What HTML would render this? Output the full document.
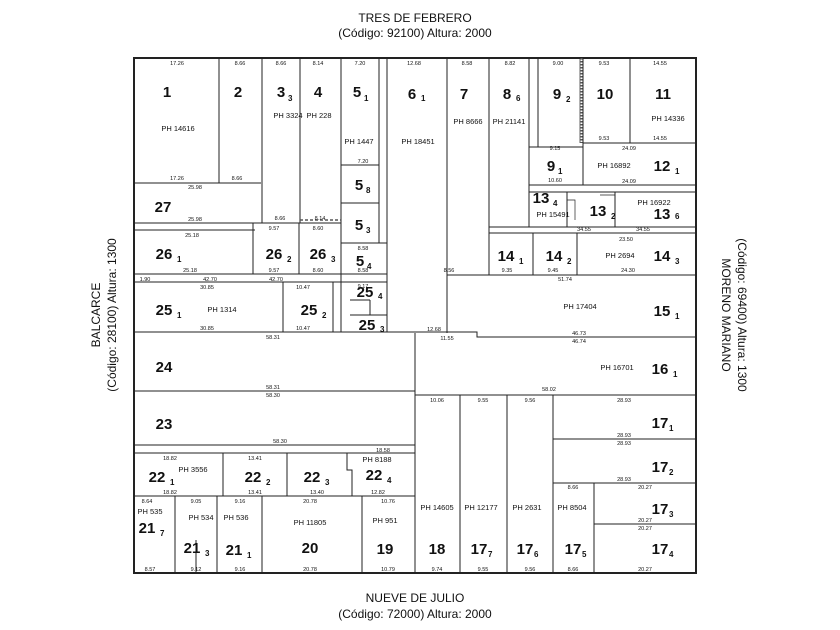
<!DOCTYPE html>
<html><head><meta charset="utf-8"><style>
html,body{margin:0;padding:0;background:#fff;}
svg{display:block;}
text{font-family:"Liberation Sans",sans-serif;fill:#111;}
.t{font-size:12px;}
.n{font-size:15px;font-weight:bold;}
.s{font-size:8px;font-weight:bold;}
.p{font-size:7.5px;}
.d{font-size:5.5px;}
</style></head><body>
<svg width="840" height="630" viewBox="0 0 840 630" xmlns="http://www.w3.org/2000/svg">
<rect width="840" height="630" fill="#fff"/>
<!-- titles -->
<text class="t" x="415" y="22" text-anchor="middle">TRES DE FEBRERO</text>
<text class="t" x="415" y="37" text-anchor="middle">(Código: 92100) Altura: 2000</text>
<text class="t" x="415" y="602" text-anchor="middle">NUEVE DE JULIO</text>
<text class="t" x="415" y="618" text-anchor="middle">(Código: 72000) Altura: 2000</text>
<text class="t" transform="translate(100,315) rotate(-90)" text-anchor="middle">BALCARCE</text>
<text class="t" transform="translate(116,315) rotate(-90)" text-anchor="middle">(Código: 28100) Altura: 1300</text>
<text class="t" transform="translate(722,315) rotate(90)" text-anchor="middle">MORENO MARIANO</text>
<text class="t" transform="translate(738,315) rotate(90)" text-anchor="middle">(Código: 69400) Altura: 1300</text>

<g stroke="#222" stroke-width="1" fill="none">
<rect x="134" y="58" width="562" height="515" stroke-width="2"/>
<path d="M219 58V183M134 183H261M262 58V223M300 58V223M341 58V332M379 58V243M387 58V332"/>
<path d="M341 165H379M341 203H379M341 243H387M341 274H387"/>
<path d="M134 223H341M134 230H255M253 223V274M299 223V274M134 274H341M134 282H341"/>
<path d="M283 282V332M333 282V332M341 282H387M350 300H370M370 300V315M350 315H387"/>
<path d="M134 332H477V337H696"/>
<path d="M447 58V333M489 58V275M529 58V227M538 58V147M529 147H583M583 58V185M630 58V143M583 143H696M583 185H696"/>
<path d="M529 185H696M529 192H696M567 192V227M615 192V227M489 227H696M489 233H696M533 233V275M577 233V275M447 275H696"/>
<path d="M567 200H575V220M600 195H615" stroke-width="0.7"/>
<path d="M415 333V573M134 391H415M134 445H415M134 453H415M223 453V496M287 453V496M347 453V470H352V496M134 496H415"/>
<path d="M175 496V573M217 496V573M262 496V573M362 496V573M196 540V573"/>
<path d="M415 395H696M460 395V573M507 395V573M553 395V573M553 439H696M553 483H696M594 483V573M594 524H696"/>
<path d="M580 58V143" stroke-width="0.7"/>
</g>
<path d="M581.5 58V143" stroke="#555" stroke-width="2" stroke-dasharray="1.5,1.5"/>
<path d="M300 220H341" stroke="#555" stroke-width="1.5" stroke-dasharray="3,2"/>

<g class="n" text-anchor="middle">
<text x="167" y="97">1</text><text x="238" y="97">2</text><text x="281" y="97">3</text><text x="318" y="97">4</text>
<text x="357" y="97">5</text><text x="412" y="99">6</text><text x="464" y="99">7</text><text x="507" y="99">8</text>
<text x="557" y="99">9</text><text x="605" y="99">10</text><text x="663" y="99">11</text>
<text x="662" y="171">12</text><text x="551" y="171">9</text><text x="163" y="212">27</text>
<text x="164" y="259">26</text><text x="274" y="259">26</text><text x="318" y="259">26</text>
<text x="359" y="190">5</text><text x="359" y="230">5</text><text x="360" y="266">5</text>
<text x="164" y="315">25</text><text x="309" y="315">25</text><text x="365" y="297">25</text><text x="367" y="330">25</text>
<text x="541" y="203">13</text><text x="598" y="216">13</text><text x="662" y="219">13</text>
<text x="506" y="261">14</text><text x="554" y="261">14</text><text x="662" y="261">14</text>
<text x="662" y="316">15</text><text x="660" y="374">16</text><text x="164" y="372">24</text><text x="164" y="429">23</text>
<text x="157" y="482">22</text><text x="253" y="482">22</text><text x="312" y="482">22</text><text x="374" y="480">22</text>
<text x="147" y="533">21</text><text x="192" y="553">21</text><text x="234" y="555">21</text>
<text x="310" y="553">20</text><text x="385" y="554">19</text><text x="437" y="554">18</text>
<text x="479" y="554">17</text><text x="525" y="554">17</text><text x="573" y="554">17</text><text x="660" y="554">17</text>
<text x="660" y="514">17</text><text x="660" y="472">17</text><text x="660" y="428">17</text>
</g>
<g class="s">
<text x="288" y="101">3</text><text x="364" y="101">1</text><text x="421" y="101">1</text><text x="516" y="101">6</text>
<text x="566" y="102">2</text><text x="675" y="174">1</text><text x="558" y="174">1</text>
<text x="177" y="262">1</text><text x="287" y="262">2</text><text x="331" y="262">3</text>
<text x="366" y="193">8</text><text x="366" y="233">3</text><text x="367" y="269">4</text>
<text x="177" y="318">1</text><text x="322" y="318">2</text><text x="378" y="299">4</text><text x="380" y="332">3</text>
<text x="553" y="206">4</text><text x="611" y="219">2</text><text x="675" y="219">6</text>
<text x="519" y="264">1</text><text x="567" y="264">2</text><text x="675" y="264">3</text>
<text x="675" y="319">1</text><text x="673" y="377">1</text>
<text x="170" y="485">1</text><text x="266" y="485">2</text><text x="325" y="485">3</text><text x="387" y="483">4</text>
<text x="160" y="536">7</text><text x="205" y="556">3</text><text x="247" y="558">1</text>
<text x="488" y="557">7</text><text x="534" y="557">6</text><text x="582" y="557">5</text><text x="669" y="557">4</text>
<text x="669" y="517">3</text><text x="669" y="475">2</text><text x="669" y="431">1</text>
</g>
<g class="p" text-anchor="middle">
<text x="178" y="131">PH 14616</text><text x="288" y="118">PH 3324</text><text x="319" y="118">PH 228</text>
<text x="359" y="144">PH 1447</text><text x="418" y="144">PH 18451</text><text x="468" y="124">PH 8666</text>
<text x="509" y="124">PH 21141</text><text x="668" y="121">PH 14336</text><text x="614" y="168">PH 16892</text>
<text x="553" y="217">PH 15491</text><text x="654" y="205">PH 16922</text><text x="620" y="258">PH 2694</text>
<text x="222" y="312">PH 1314</text><text x="580" y="309">PH 17404</text><text x="617" y="370">PH 16701</text>
<text x="193" y="472">PH 3556</text><text x="377" y="462">PH 8188</text><text x="150" y="514">PH 535</text>
<text x="201" y="520">PH 534</text><text x="236" y="520">PH 536</text><text x="310" y="525">PH 11805</text>
<text x="385" y="523">PH 951</text><text x="437" y="510">PH 14605</text><text x="481" y="510">PH 12177</text>
<text x="527" y="510">PH 2631</text><text x="572" y="510">PH 8504</text>
</g>
<g class="d" text-anchor="middle">
<text x="177" y="65">17.26</text><text x="240" y="65">8.66</text><text x="281" y="65">8.66</text><text x="318" y="65">8.14</text>
<text x="360" y="65">7.20</text><text x="414" y="65">12.68</text><text x="467" y="65">8.58</text><text x="510" y="65">8.82</text>
<text x="558" y="65">9.00</text><text x="604" y="65">9.53</text><text x="660" y="65">14.55</text>
<text x="177" y="180">17.26</text><text x="237" y="180">8.66</text><text x="195" y="189">25.98</text><text x="195" y="221">25.98</text>
<text x="280" y="220">8.66</text><text x="320" y="220">8.14</text><text x="192" y="237">25.18</text><text x="190" y="272">25.18</text>
<text x="274" y="272">9.57</text><text x="318" y="272">8.60</text><text x="274" y="230">9.57</text><text x="318" y="230">8.60</text>
<text x="210" y="281">42.70</text><text x="276" y="281">42.70</text><text x="145" y="281">1.90</text>
<text x="207" y="289">30.85</text><text x="207" y="330">30.85</text><text x="303" y="289">10.47</text><text x="303" y="330">10.47</text>
<text x="273" y="339">58.31</text><text x="273" y="389">58.31</text><text x="273" y="397">58.30</text><text x="280" y="443">58.30</text>
<text x="170" y="460">18.82</text><text x="170" y="494">18.82</text><text x="255" y="460">13.41</text><text x="255" y="494">13.41</text>
<text x="317" y="494">13.40</text><text x="378" y="494">12.82</text><text x="383" y="452">18.58</text>
<text x="147" y="503">8.64</text><text x="196" y="503">9.05</text><text x="240" y="503">9.16</text><text x="310" y="503">20.78</text>
<text x="388" y="503">10.76</text><text x="150" y="571">8.57</text><text x="196" y="571">9.12</text><text x="240" y="571">9.16</text>
<text x="310" y="571">20.78</text><text x="388" y="571">10.79</text><text x="437" y="571">9.74</text><text x="483" y="571">9.55</text>
<text x="530" y="571">9.56</text><text x="573" y="571">8.66</text><text x="645" y="571">20.27</text>
<text x="437" y="402">10.06</text><text x="483" y="402">9.55</text><text x="530" y="402">9.56</text><text x="624" y="402">28.93</text>
<text x="624" y="437">28.93</text><text x="624" y="445">28.93</text><text x="624" y="481">28.93</text><text x="573" y="489">8.66</text>
<text x="645" y="489">20.27</text><text x="645" y="522">20.27</text><text x="645" y="530">20.27</text>
<text x="549" y="391">58.02</text><text x="579" y="335">46.73</text><text x="579" y="343">46.74</text><text x="565" y="281">51.74</text>
<text x="449" y="272">8.56</text><text x="507" y="272">9.35</text><text x="553" y="272">9.45</text><text x="628" y="272">24.30</text>
<text x="626" y="241">23.50</text><text x="584" y="231">34.55</text><text x="643" y="231">34.55</text>
<text x="629" y="150">24.09</text><text x="629" y="183">24.09</text><text x="555" y="182">10.60</text><text x="555" y="150">9.15</text>
<text x="604" y="140">9.53</text><text x="660" y="140">14.55</text><text x="434" y="331">12.68</text><text x="447" y="340">11.55</text>
<text x="363" y="163">7.20</text><text x="363" y="250">8.58</text><text x="363" y="272">8.58</text><text x="363" y="288">9.17</text>
</g>
</svg>
</body></html>
